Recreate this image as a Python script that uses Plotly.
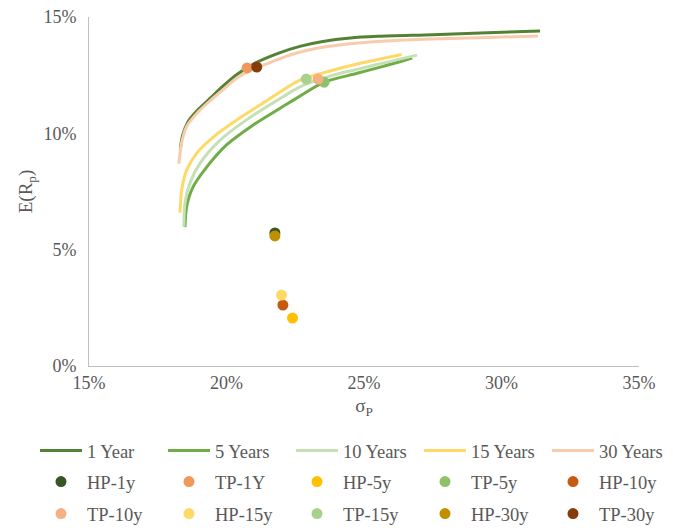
import plotly.graph_objects as go

# ---- data (percent units) ----
sig_1y = [18.32, 18.40, 18.6, 18.95, 19.4, 19.8, 20.4, 21.1, 21.9, 22.7, 23.5, 24.5, 25.5, 27.5, 29.5, 31.4]
ret_1y = [9.3, 9.9, 10.5, 11.0, 11.5, 11.95, 12.55, 13.05, 13.45, 13.75, 13.95, 14.1, 14.17, 14.24, 14.32, 14.40]

sig_5y = [18.49, 18.55, 18.78, 19.28, 20.0, 20.96, 22.05, 22.67, 23.55, 24.75, 25.7, 26.75]
ret_5y = [5.97, 6.85, 7.69, 8.55, 9.5, 10.35, 11.15, 11.6, 12.2, 12.58, 12.88, 13.24]

sig_10y = [18.45, 18.49, 18.67, 19.04, 19.76, 20.75, 21.95, 22.67, 23.76, 24.75, 25.8, 26.93]
ret_10y = [5.99, 7.0, 7.86, 8.72, 9.7, 10.6, 11.5, 12.0, 12.46, 12.75, 13.05, 13.36]

sig_15y = [18.31, 18.37, 18.55, 18.92, 19.52, 20.37, 21.33, 22.67, 23.76, 24.75, 26.37]
ret_15y = [6.59, 7.56, 8.42, 9.15, 9.84, 10.57, 11.3, 12.29, 12.68, 12.98, 13.39]

sig_30y = [18.27, 18.35, 18.55, 18.95, 19.4, 19.8, 20.4, 20.9, 21.6, 22.4, 23.5, 24.5, 25.5, 27.5, 29.5, 31.33]
ret_30y = [8.7, 9.5, 10.3, 10.9, 11.4, 11.8, 12.4, 12.72, 13.05, 13.4, 13.7, 13.85, 13.95, 14.05, 14.12, 14.18]

line_names = ["1 Year", "5 Years", "10 Years", "15 Years", "30 Years"]
line_colors = ["#548235", "#70AD47", "#C5E0B4", "#FFD966", "#F8CBAD"]

point_names = ["HP-1y", "TP-1Y", "HP-5y", "TP-5y", "HP-10y", "TP-10y", "HP-15y", "TP-15y", "HP-30y", "TP-30y"]
point_sigma = [21.76, 20.75, 22.4, 23.55, 22.05, 23.33, 22.0, 22.9, 21.76, 21.1]
point_ret = [5.72, 12.81, 2.06, 12.2, 2.62, 12.33, 3.05, 12.33, 5.59, 12.85]
point_colors = ["#375623", "#F0975A", "#FFC000", "#8DC26A", "#C55A11", "#F4B183", "#FFD966", "#A9D18E", "#BF9000", "#843C0C"]

x_ticks = [15, 20, 25, 30, 35]
x_ticktext = ["15%", "20%", "25%", "30%", "35%"]
y_ticks = [0, 5, 10, 15]
y_ticktext = ["0%", "5%", "10%", "15%"]

FONT = "Liberation Serif"
GREY = "#595959"

fig = go.Figure()
curves = [(sig_1y, ret_1y), (sig_5y, ret_5y), (sig_10y, ret_10y), (sig_15y, ret_15y), (sig_30y, ret_30y)]
for (xs, ys), name, col in zip(curves, line_names, line_colors):
    fig.add_trace(go.Scatter(x=xs, y=ys, mode="lines", name=name, legend="legend",
                             line=dict(color=col, width=3, shape="spline", smoothing=0.8)))

for i, (name, sx, ry, col) in enumerate(zip(point_names, point_sigma, point_ret, point_colors)):
    fig.add_trace(go.Scatter(x=[sx], y=[ry], mode="markers", name=name,
                             legend="legend2" if i < 5 else "legend3",
                             marker=dict(color=col, size=11, line=dict(width=0))))

# page has an 8px body margin -> figure coords = page coords - 8
W, H = 665, 523
ML, MR = 30, 0                    # layout margins (wide, so the legends may span the width)
AX_L, AX_R, T0, PH = 81, 631, 9, 349   # axes box in figure pixels
GW = W - ML - MR
leg_left = 27
row_centers = [443, 474, 506]


def leg(yc):
    return dict(orientation="h", xref="paper", yref="paper",
                x=(leg_left - ML) / GW, y=-(yc - (T0 + PH)) / PH,
                xanchor="left", yanchor="middle",
                entrywidth=71.0, entrywidthmode="pixels", itemwidth=42,
                font=dict(family=FONT, size=18.5, color=GREY),
                bgcolor="rgba(0,0,0,0)", traceorder="normal")


fig.update_layout(
    width=W, height=H,
    margin=dict(l=ML, r=MR, t=T0, b=H - T0 - PH, autoexpand=False),
    paper_bgcolor="white", plot_bgcolor="white",
    font=dict(family=FONT, size=18, color=GREY),
    showlegend=True,
    legend=leg(row_centers[0]),
    legend2=leg(row_centers[1]),
    legend3=leg(row_centers[2]),
    xaxis=dict(domain=[(AX_L - ML) / GW, (AX_R - ML) / GW],
               range=[15, 35], tickvals=x_ticks, ticktext=x_ticktext, showgrid=False, zeroline=False,
               showline=True, linecolor="#BFBFBF", linewidth=1, ticks="", ticklabelstandoff=0,
               automargin=False, ticklabeloverflow="allow",
               title=dict(text="σ<sub>P</sub>", font=dict(family=FONT, size=19, color=GREY), standoff=7)),
    yaxis=dict(range=[0, 15], tickvals=y_ticks, ticktext=y_ticktext, showgrid=False, zeroline=False,
               showline=True, linecolor="#BFBFBF", linewidth=1, ticks="", ticklabelstandoff=8,
               automargin=False, ticklabeloverflow="allow",
               title=dict(text="E(R<sub>p</sub>)", font=dict(family=FONT, size=19, color=GREY), standoff=5)),
)

fig.write_html("out.html")
